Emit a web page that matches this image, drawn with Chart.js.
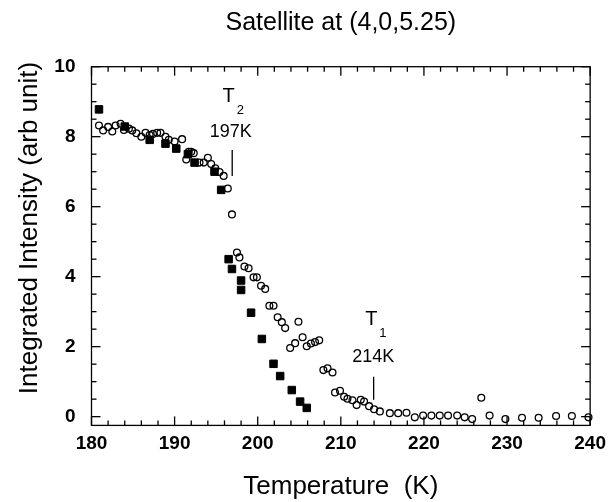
<!DOCTYPE html>
<html>
<head>
<meta charset="utf-8">
<script src="https://cdn.jsdelivr.net/npm/chart.js@4"></script>
<style>
  body { margin: 0; background: #fff; }
</style>
</head>
<body>
<canvas id="chart" width="613" height="502"></canvas>
<script>
// open circles
const tempOpen = [
  180.9, 181.4, 182.0, 182.5, 182.9, 183.5, 183.9, 184.5, 184.9, 185.4,
  186.0, 186.5, 187.0, 187.4, 187.9, 188.3, 188.9, 189.3, 190.0, 190.9,
  191.4, 191.7, 192.0, 192.3, 193.0, 193.5, 194.0, 194.4, 194.9, 195.4,
  195.9, 196.4, 196.9, 197.5, 197.8, 198.4, 198.9, 199.5, 199.9, 200.4,
  200.9, 201.4, 201.9, 202.4, 202.9, 203.3, 203.9, 204.5, 204.9, 205.4,
  205.9, 206.4, 206.9, 207.4, 207.9, 208.4, 209.0, 209.3, 209.9, 210.4,
  210.8, 211.4, 211.9, 212.4, 212.8, 213.4, 214.0, 214.7, 215.9, 216.9,
  217.9, 218.9, 219.9, 220.9, 221.9, 222.9, 224.0, 224.9, 225.8, 226.9,
  227.9, 229.8, 231.8, 233.8, 235.9, 237.8, 239.8
];
const intOpen = [
  8.32, 8.18, 8.28, 8.15, 8.32, 8.37, 8.19, 8.23, 8.18, 8.10,
  8.00, 8.11, 8.05, 8.08, 8.11, 8.11, 8.00, 7.91, 7.86, 7.93,
  7.35, 7.57, 7.57, 7.53, 7.26, 7.26, 7.40, 7.22, 7.10, 6.99,
  6.88, 6.52, 5.78, 4.69, 4.55, 4.29, 4.24, 3.98, 3.98, 3.74,
  3.65, 3.17, 3.17, 2.84, 2.70, 2.53, 1.96, 2.10, 2.71, 2.27,
  2.01, 2.09, 2.13, 2.18, 1.33, 1.38, 1.26, 0.69, 0.74, 0.57,
  0.51, 0.47, 0.33, 0.48, 0.43, 0.30, 0.21, 0.15, 0.10, 0.10,
  0.11, -0.02, 0.03, 0.03, 0.03, 0.03, 0.03, -0.02, -0.07, 0.54,
  0.03, -0.07, -0.03, -0.03, 0.02, 0.02, -0.02
];

// filled squares
const tempFilled = [
  180.9, 184.0, 187.0, 188.9, 190.2, 191.6, 192.4, 194.8, 195.6, 196.5,
  196.9, 198.0, 198.0, 199.2, 200.5, 201.9, 202.7, 204.1, 205.1, 205.9
];
const intFilled = [
  8.78, 8.29, 7.91, 7.80, 7.66, 7.50, 7.26, 7.00, 6.48, 4.50,
  4.22, 3.89, 3.62, 2.97, 2.22, 1.51, 1.16, 0.76, 0.43, 0.25
];

// transition markers
const markerSub = ["2", "1"];
const markerText = ["197K", "214K"];
const markerTemp = [196.93, 213.95];
const markerTop = [7.62, 1.14];
const markerBottom = [6.88, 0.48];
const markerLabelX = [196.75, 213.9];
const markerLabelY = [9.15, 2.78];
const markerTextY = [8.12, 1.71];

const xTicks = [180, 190, 200, 210, 220, 230, 240];
const yTicks = [0, 2, 4, 6, 8, 10];
const yTitle = "Integrated Intensity (arb unit)";

const FONT = "'Liberation Sans', Arial, Helvetica, sans-serif";

const toPoints = (xs, ys) => xs.map((x, i) => ({ x: x, y: ys[i] }));

const markerSets = markerTemp.map((t, i) => ({
  type: "line",
  data: [{ x: t, y: markerTop[i] }, { x: t, y: markerBottom[i] }],
  borderColor: "#000",
  borderWidth: 1.3,
  pointRadius: 0,
  showLine: true,
  clip: false
}));

// frame with inward ticks on all four sides
const framePlugin = {
  id: "frame",
  beforeDatasetsDraw(chart) {
    const ctx = chart.ctx;
    const a = chart.chartArea;
    const sx = chart.scales.x;
    const sy = chart.scales.y;
    const line = (x1, y1, x2, y2) => {
      ctx.beginPath();
      ctx.moveTo(x1, y1);
      ctx.lineTo(x2, y2);
      ctx.stroke();
    };
    ctx.save();
    ctx.strokeStyle = "#000";
    ctx.lineWidth = 1.3;
    ctx.strokeRect(a.left, a.top, a.right - a.left, a.bottom - a.top);
    for (let t = sx.min; t <= sx.max; t += 2) {
      const px = sx.getPixelForValue(t);
      const len = t % 10 === 0 ? 9 : 5;
      line(px, a.bottom, px, a.bottom - len);
      line(px, a.top, px, a.top + len);
    }
    for (let v = 0; v <= sy.max; v += 0.5) {
      const py = sy.getPixelForValue(v);
      const len = v % 2 === 0 ? 9 : 5;
      line(a.left, py, a.left + len, py);
      line(a.right, py, a.right - len, py);
    }
    ctx.restore();
  }
};

// y title and T labels
const labelPlugin = {
  id: "tlabels",
  afterDatasetsDraw(chart) {
    const ctx = chart.ctx;
    const sx = chart.scales.x;
    const sy = chart.scales.y;
    ctx.save();
    ctx.fillStyle = "#000";
    ctx.textBaseline = "middle";

    ctx.save();
    ctx.translate(30, 228);
    ctx.rotate(-Math.PI / 2);
    ctx.font = "26px " + FONT;
    ctx.textAlign = "center";
    ctx.fillText(yTitle, 0, 0);
    ctx.restore();

    markerSub.forEach((sub, i) => {
      const px = sx.getPixelForValue(markerLabelX[i]);
      const py = sy.getPixelForValue(markerLabelY[i]);
      ctx.font = "20px " + FONT;
      const w = ctx.measureText("T").width;
      ctx.textAlign = "left";
      ctx.fillText("T", px - w / 2 - 2, py);
      ctx.font = "13px " + FONT;
      ctx.fillText(sub, px + w / 2, py + 14);
      ctx.font = "18px " + FONT;
      ctx.textAlign = "center";
      ctx.fillText(markerText[i], px, sy.getPixelForValue(markerTextY[i]));
    });
    ctx.restore();
  }
};

new Chart(document.getElementById("chart").getContext("2d"), {
  type: "scatter",
  data: {
    datasets: [
      {
        data: toPoints(tempOpen, intOpen),
        pointStyle: "circle",
        pointRadius: 3.4,
        borderColor: "#000",
        backgroundColor: "rgba(0,0,0,0)",
        borderWidth: 1.3,
        clip: false
      },
      {
        data: toPoints(tempFilled, intFilled),
        pointStyle: "rect",
        pointRadius: 5.3,
        borderColor: "#000",
        backgroundColor: "#000",
        borderWidth: 1,
        clip: false
      },
      ...markerSets
    ]
  },
  options: {
    responsive: false,
    animation: false,
    layout: { padding: { left: 0, right: 16.5, top: 0, bottom: 0 } },
    plugins: {
      legend: { display: false },
      tooltip: { enabled: false },
      title: {
        display: true,
        text: "Satellite at (4,0,5.25)",
        fullSize: false,
        color: "#000",
        font: { family: FONT, size: 25, weight: "normal", lineHeight: 1.2 },
        padding: { top: 8, bottom: 28.7 }
      }
    },
    scales: {
      x: {
        type: "linear",
        min: 180,
        max: 240,
        afterBuildTicks: s => { s.ticks = xTicks.map(v => ({ value: v })); },
        afterFit: s => { s.height = 76.6; },
        grid: { display: false, drawTicks: false },
        border: { display: false },
        ticks: {
          color: "#000",
          padding: 7,
          maxRotation: 0,
          font: { family: FONT, size: 19, weight: "bold" }
        },
        title: {
          display: true,
          text: "Temperature  (K)",
          color: "#000",
          font: { family: FONT, size: 26, lineHeight: 1.2 },
          padding: { top: 0, bottom: 0 }
        }
      },
      y: {
        type: "linear",
        min: -0.25,
        max: 10,
        afterBuildTicks: s => { s.ticks = yTicks.map(v => ({ value: v })); },
        afterFit: s => { s.width = 91.5; },
        grid: { display: false, drawTicks: false },
        border: { display: false },
        ticks: {
          color: "#000",
          padding: 16,
          font: { family: FONT, size: 19, weight: "bold" }
        },
        title: { display: false }
      }
    }
  },
  plugins: [framePlugin, labelPlugin]
});
</script>
</body>
</html>
